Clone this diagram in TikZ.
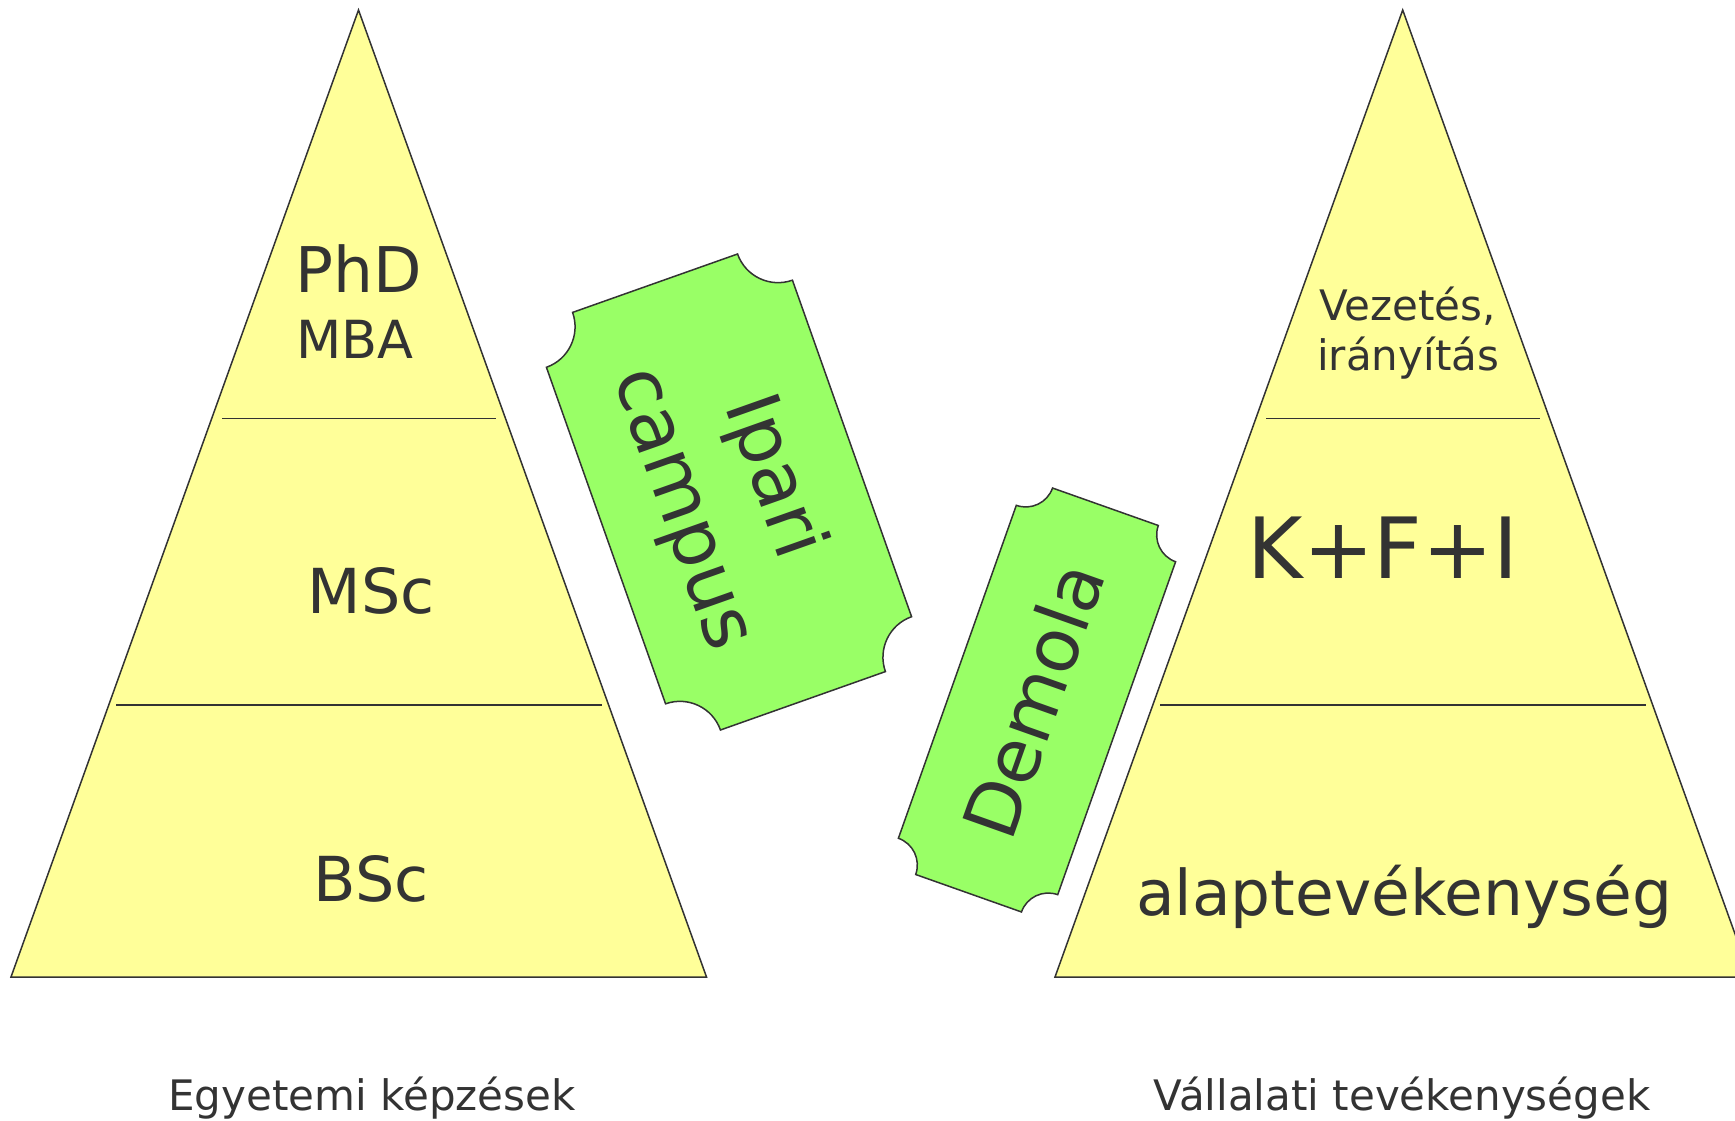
\documentclass[tikz,border=0pt]{standalone}
\usepackage{fontspec}
\setmainfont{DejaVu Sans}
\definecolor{triyellow}{HTML}{FFFF99}
\definecolor{tickgreen}{HTML}{99FF66}
\definecolor{ink}{HTML}{333333}
\newcommand{\myfs}[2]{\fontsize{#1}{#2}\selectfont}
\newcommand{\ticketpath}[3]{(-#1+#3,#2) -- (#1-#3,#2) arc[start angle=180,end angle=270,radius=#3] -- (#1,-#2+#3) arc[start angle=90,end angle=180,radius=#3] -- (-#1+#3,-#2) arc[start angle=0,end angle=90,radius=#3] -- (-#1,#2-#3) arc[start angle=270,end angle=360,radius=#3] -- cycle}
\begin{document}
\begin{tikzpicture}[x=1pt,y=-1pt,
  tri/.style={fill=triyellow, draw=ink, line width=1.5pt, line join=miter},
  divider/.style={draw=ink, line width=1.6pt},
  ticketbox/.style={fill=tickgreen, draw=ink, line width=1.5pt},
  lbl/.style={text=ink, inner sep=0pt, anchor=base},
  lblw/.style={text=ink, inner sep=0pt, anchor=base west}]
\useasboundingbox (0,0) rectangle (1735,1121);
\clip (0,0) rectangle (1735,1121);
% left pyramid
\coordinate (LA) at (358.5,10);
\coordinate (LL) at (11,977);
\coordinate (LR) at (706.5,977);
\draw[tri] (LA) -- (LR) -- (LL) -- cycle;
\coordinate (L1a) at (222,418.5); \coordinate (L1b) at (496,418.5);
\coordinate (L2a) at (116,705);   \coordinate (L2b) at (602,705);
\draw[divider] (L1a) -- (L1b);
\draw[divider] (L2a) -- (L2b);
% right pyramid
\coordinate (RA) at (1402.7,10);
\coordinate (RL) at (1055,977);
\coordinate (RR) at (1750.5,977);
\draw[tri] (RA) -- (RR) -- (RL) -- cycle;
\coordinate (R1a) at (1266,418.5); \coordinate (R1b) at (1540,418.5);
\coordinate (R2a) at (1160,705);   \coordinate (R2b) at (1646,705);
\draw[divider] (R1a) -- (R1b);
\draw[divider] (R2a) -- (R2b);
% tickets
\begin{scope}[shift={(729,492)}, rotate=19.5]
  \draw[ticketbox] \ticketpath{130.5}{221.5}{43};
\end{scope}
\begin{scope}[shift={(1037,700)}, rotate=-19.5]
  \draw[ticketbox] \ticketpath{84.5}{205}{28.4};
\end{scope}
\node[text=ink, inner sep=0pt, rotate=-70.5, align=center, font=\myfs{75}{96}] (ipari) at (727,493) {Ipari\\campus};
\node[text=ink, inner sep=0pt, rotate=70.5, font=\myfs{74}{90}] (demola) at (1033,700) {Demola};
% left labels
\node[lblw, font=\myfs{63}{70}] (phd) at (295,292.7) {PhD};
\node[lblw, font=\myfs{52.5}{60}] (mba) at (296,358.3) {MBA};
\node[lbl, font=\myfs{62}{70}] (msc) at (371,613.3) {MSc};
\node[lbl, font=\myfs{62}{70}] (bsc) at (371,901) {BSc};
\node[lbl, font=\myfs{42}{50}] (egy) at (372,1110) {Egyetemi képzések};
% right labels
\node[lblw, font=\myfs{42}{50}] (vez) at (1319,320) {Vezetés,};
\node[lblw, font=\myfs{42}{50}] (iran) at (1317,370) {irányítás};
\node[lbl, font=\myfs{84.5}{90}] (kfi) at (1383,578.3) {K+F+I};
\node[lbl, font=\myfs{63}{70}] (alap) at (1404,915) {alaptevékenység};
\node[lbl, font=\myfs{42}{50}] (vall) at (1402,1110) {Vállalati tevékenységek};
\end{tikzpicture}
\end{document}
